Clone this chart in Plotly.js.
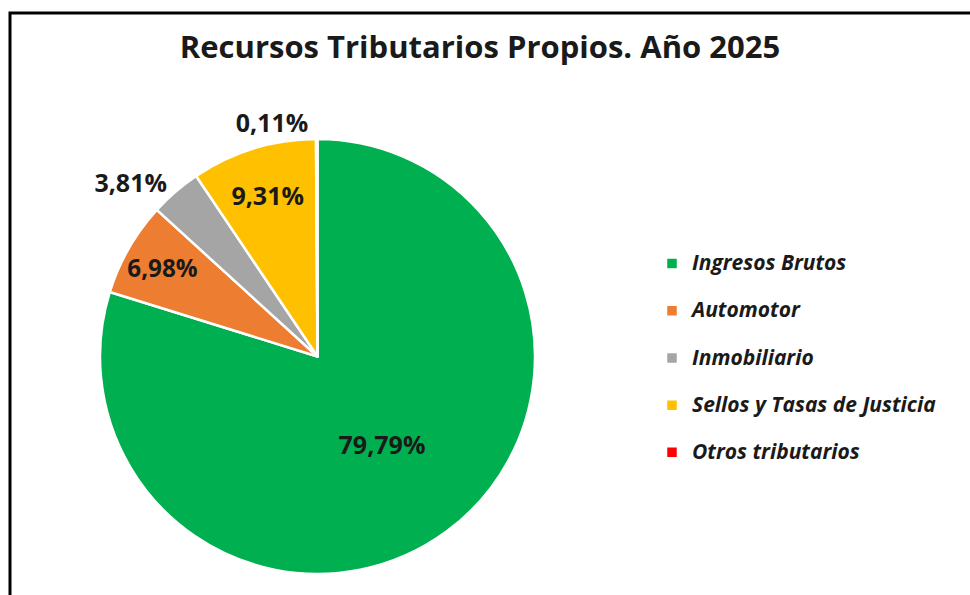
<!DOCTYPE html>
<html>
<head>
<meta charset="utf-8">
<script src="https://cdn.plot.ly/plotly-3.0.1.min.js"></script>
<style>html,body{margin:0;padding:0;background:#fff;}#chart{width:970px;height:595px;}</style>
</head>
<body>
<div id="chart"></div>
<script>
const categories = ['Ingresos Brutos', 'Automotor', 'Inmobiliario', 'Sellos y Tasas de Justicia', 'Otros tributarios'];
const shares = [79.79, 6.98, 3.81, 9.31, 0.11];
const colors = ['#00B050', '#ED7D31', '#A5A5A5', '#FFC000', '#FF0000'];
const labelPositions = ['inside', 'inside', 'outside', 'inside', 'outside'];
const chartTitle = 'Recursos Tributarios Propios. Año 2025';

const W = 970, H = 595;
const cx = 317.5, cy = 356.5, r = 217.5;
const FONT = '"Open Sans", "DejaVu Sans", sans-serif';

const trace = {
  type: 'pie',
  labels: categories.map(c => '<span style="font-size:21px"><i><b>' + c + '</b></i></span><br> '),
  values: shares,
  sort: false,
  direction: 'clockwise',
  rotation: 0,
  marker: {colors: colors, line: {color: '#ffffff', width: 2.5}},
  texttemplate: '<b>%{value:.2f}%</b>',
  textposition: labelPositions,
  insidetextorientation: 'horizontal',
  textfont: {family: FONT, size: 25, color: '#1a1a1a'},
  outsidetextfont: {family: FONT, size: 25, color: '#1a1a1a'},
  hoverinfo: 'label+percent',
  domain: {x: [(cx - r) / W, (cx + r) / W], y: [1 - (cy + r) / H, 1 - (cy - r) / H]},
  automargin: false
};

const layout = {
  width: W, height: H,
  margin: {l: 0, r: 0, t: 0, b: 0},
  paper_bgcolor: '#ffffff',
  separators: ',.',
  showlegend: true,
  title: {
    text: '<b>' + chartTitle + '</b>',
    font: {family: FONT, size: 31, color: '#1a1a1a'},
    x: 480 / W, xanchor: 'center', y: 1 - 47 / H, yanchor: 'middle'
  },
  legend: {
    x: 652 / W, xanchor: 'left', y: 1 - 246 / H, yanchor: 'top',
    valign: 'top',
    font: {family: FONT, size: 17, color: '#1a1a1a'},
    traceorder: 'normal', itemclick: false, itemdoubleclick: false
  },
  shapes: [{
    type: 'path', xref: 'paper', yref: 'paper',
    path: 'M ' + (10 / W) + ' 0 L ' + (10 / W) + ' ' + (1 - 13 / H) + ' L 1 ' + (1 - 13 / H),
    line: {color: '#000000', width: 3}
  }]
};

Plotly.newPlot('chart', [trace], layout, {displayModeBar: false, staticPlot: true});
</script>
</body>
</html>
